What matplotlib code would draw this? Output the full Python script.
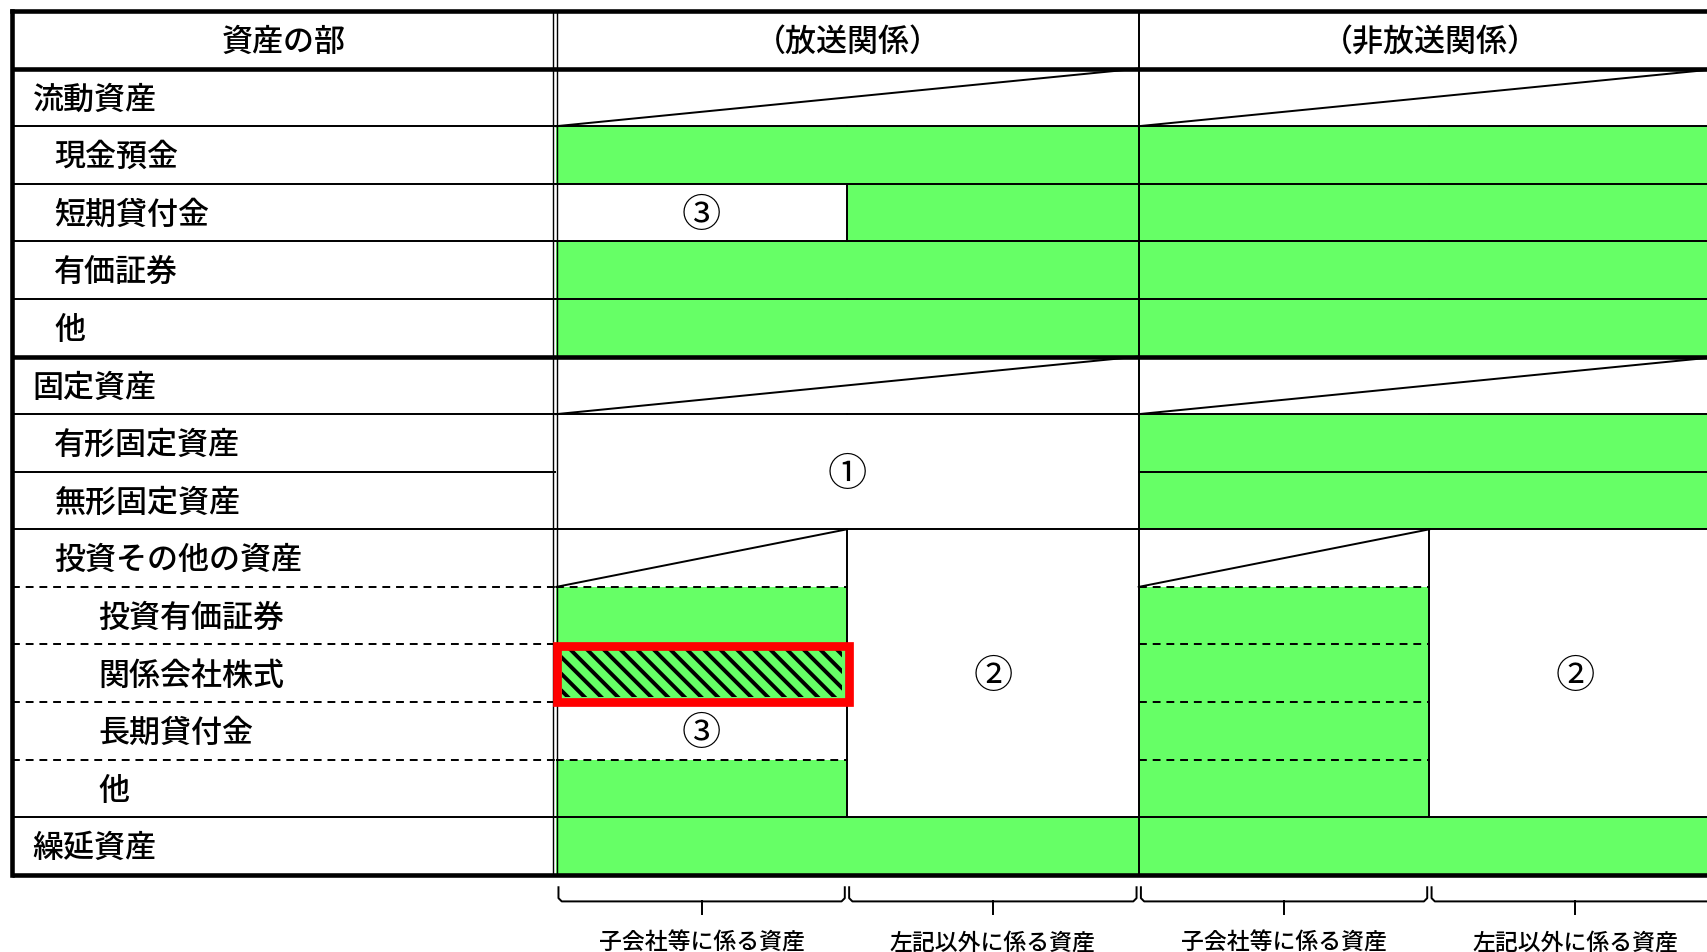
import matplotlib.pyplot as plt
from matplotlib.patches import Rectangle
from matplotlib.lines import Line2D

plt.rcParams['font.family'] = ['Noto Sans CJK JP', 'DejaVu Sans']
plt.rcParams['font.weight'] = 'medium'

# 表の中身
header_labels = ['資産の部', '（放送関係）', '（非放送関係）']
row_labels = ['流動資産', '現金預金', '短期貸付金', '有価証券', '他',
              '固定資産', '有形固定資産', '無形固定資産', '投資その他の資産',
              '投資有価証券', '関係会社株式', '長期貸付金', '他', '繰延資産']
row_indent = [0, 1, 1, 1, 1, 0, 1, 1, 1, 2, 2, 2, 2, 0]

# セルの状態: g=緑, h=緑+斜線(赤枠), d=斜線セル, 1/2/3=丸数字の結合セル
col_a = ['d', 'g', '3', 'g', 'g', 'd', '1', '1', 'd', 'g', 'h', '3', 'g', 'g']  # 放送 子会社等
col_b = ['d', 'g', 'g', 'g', 'g', 'd', '1', '1', '2', '2', '2', '2', '2', 'g']  # 放送 左記以外
col_c = ['d', 'g', 'g', 'g', 'g', 'd', 'g', 'g', 'd', 'g', 'g', 'g', 'g', 'g']  # 非放送 子会社等
col_d = ['d', 'g', 'g', 'g', 'g', 'd', 'g', 'g', '2', '2', '2', '2', '2', 'g']  # 非放送 左記以外
bracket_labels = ['子会社等に係る資産', '左記以外に係る資産',
                  '子会社等に係る資産', '左記以外に係る資産']

circled = {'1': '①', '2': '②', '3': '③'}
GREEN = '#66FF66'

# 座標は表示サイズ(1568幅)基準
W, H = 1568, 952 * 1568 / 1707
S = 1707 / 1568


def lw(px):
    return px * S * 0.72


def fs(px):
    return px * S * 0.72


fig = plt.figure(figsize=(17.07, 9.52), dpi=100)
ax = fig.add_axes([0, 0, 1, 1])
ax.set_xlim(0, W)
ax.set_ylim(H, 0)
ax.axis('off')

left = 11
lab_r = 509.5
xs = [511, 778, 1046, 1313, 1581]
top = 10
y0 = 63
rh = (803.6 - y0) / len(row_labels)
ys = [y0 + i * rh for i in range(len(row_labels) + 1)]
right = xs[-1]
cols = [col_a, col_b, col_c, col_d]
nrow = len(row_labels)

THIN = lw(1.8)
THICK = lw(4.2)
dashed_idx = {9, 10, 11, 12}
thick_idx = {0, 5, nrow}

# 塗り
for j, col in enumerate(cols):
    for i, st in enumerate(col):
        if st in 'gh':
            ax.add_patch(Rectangle((xs[j], ys[i]), xs[j + 1] - xs[j], rh,
                                   facecolor=GREEN, edgecolor='none', zorder=1))
        if st == 'h':
            clip = Rectangle((xs[j] + 5, ys[i] + 5), xs[j + 1] - xs[j] - 10, rh - 10,
                             transform=ax.transData, facecolor='none', edgecolor='none')
            ax.add_patch(clip)
            step = 15.3
            x = xs[j] - rh
            while x < xs[j + 1] + rh:
                ln = Line2D([x, x + rh], [ys[i], ys[i + 1]], color='black',
                            lw=lw(3.6), zorder=2, solid_capstyle='butt')
                ax.add_line(ln)
                ln.set_clip_path(clip)
                x += step
            ax.add_patch(Rectangle((xs[j] + 1, ys[i] + 1), xs[j + 1] - xs[j] + 0.5, rh - 1,
                                   facecolor='none', edgecolor='#FF0000',
                                   lw=lw(8), zorder=6))

# 見出し行
ax.plot([left, right], [top, top], color='black', lw=THICK, zorder=5)
ax.text((left + lab_r) / 2, (top + y0) / 2 + 2, header_labels[0], ha='center', va='center',
        fontsize=fs(28.5), zorder=7)
for k in range(2):
    ax.text((xs[2 * k] + xs[2 * k + 2]) / 2, (top + y0) / 2 + 2, header_labels[k + 1],
            ha='center', va='center', fontsize=fs(28.5), zorder=7)

# 行ラベル
indent_x = [30, 50, 90]
for i, lab in enumerate(row_labels):
    ax.text(indent_x[row_indent[i]], (ys[i] + ys[i + 1]) / 2 + 2, lab, ha='left',
            va='center', fontsize=fs(28.5), zorder=7)

# 横線
for b, y in enumerate(ys):
    if b in thick_idx:
        ax.plot([left, right], [y, y], color='black', lw=THICK, zorder=5,
                solid_capstyle='butt')
        continue
    style = (0, (4, 3)) if b in dashed_idx else '-'
    ax.plot([left, lab_r], [y, y], color='black', lw=THIN, linestyle=style, zorder=4)
    for j, col in enumerate(cols):
        up, dn = col[b - 1], col[b]
        if up == dn and up in '12':
            continue
        ax.plot([xs[j], xs[j + 1]], [y, y], color='black', lw=THIN, linestyle=style,
                zorder=4)

# 縦線
ax.plot([left, left], [top, ys[-1]], color='black', lw=THICK, zorder=5)
ax.plot([right, right], [top, ys[-1]], color='black', lw=THICK, zorder=5)
for x in (508, 511.5):
    ax.plot([x, x], [top, ys[-1]], color='black', lw=lw(1.3), zorder=5)
ax.plot([xs[2], xs[2]], [top, ys[-1]], color='black', lw=THIN, zorder=5)
for sec in range(2):
    ca, cb = cols[2 * sec], cols[2 * sec + 1]
    xm = xs[2 * sec + 1]
    for i in range(nrow):
        if ca[i] != cb[i]:
            ax.plot([xm, xm], [ys[i], ys[i + 1]], color='black', lw=THIN, zorder=4)

# 斜線セル
for sec in range(2):
    ca, cb = cols[2 * sec], cols[2 * sec + 1]
    for i in range(nrow):
        if ca[i] == 'd':
            x_end = xs[2 * sec + 2] if cb[i] == 'd' else xs[2 * sec + 1]
            ax.plot([xs[2 * sec], x_end], [ys[i + 1], ys[i]], color='black',
                    lw=THIN, zorder=6)

# 丸数字(結合セルの中央)
seen = set()
for j, col in enumerate(cols):
    for i, st in enumerate(col):
        if st not in circled or (j, i) in seen:
            continue
        stack, comp = [(j, i)], []
        while stack:
            cj, ci = stack.pop()
            if (cj, ci) in seen:
                continue
            seen.add((cj, ci))
            comp.append((cj, ci))
            for nj, ni in ((cj + 1, ci), (cj - 1, ci), (cj, ci + 1), (cj, ci - 1)):
                if 0 <= nj < 4 and 0 <= ni < nrow and nj // 2 == cj // 2 \
                        and cols[nj][ni] == st:
                    stack.append((nj, ni))
        jmin = min(c[0] for c in comp)
        jmax = max(c[0] for c in comp)
        imin = min(c[1] for c in comp)
        imax = max(c[1] for c in comp)
        ax.text((xs[jmin] + xs[jmax + 1]) / 2, (ys[imin] + ys[imax + 1]) / 2 + 3,
                circled[st], ha='center', va='center', fontsize=fs(36),
                fontweight='normal', zorder=7)

# 下の括弧
for j, lab in enumerate(bracket_labels):
    xl, xr = xs[j] + 2, xs[j + 1] - 2
    xc = (xl + xr) / 2
    ax.plot([xl, xl, xl + 3, xr - 3, xr, xr], [815, 825, 828, 828, 825, 815],
            color='black', lw=lw(1.8), zorder=4)
    ax.plot([xc, xc], [828, 840], color='black', lw=lw(1.8), zorder=4)
    ax.text(xc, 866, lab, ha='center', va='center', fontsize=fs(21), zorder=7)

fig.savefig('out.png', dpi=100)
